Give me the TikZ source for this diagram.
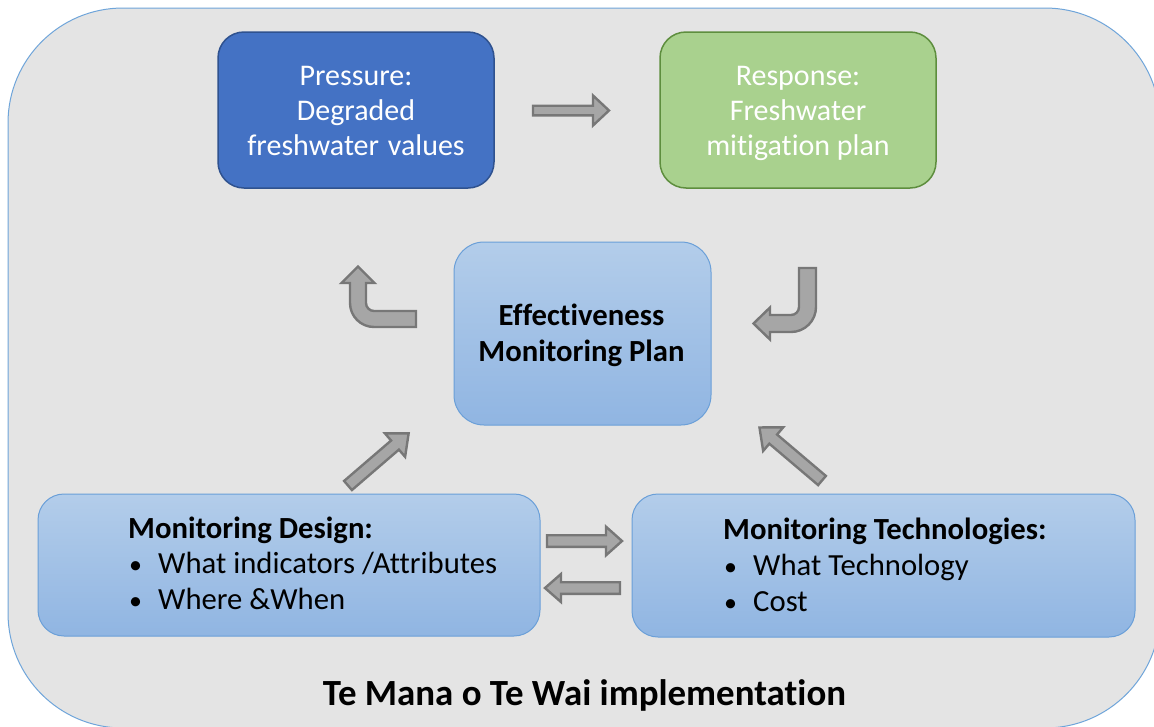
\documentclass[tikz,border=0pt]{standalone}
\usepackage{fontspec}
\setmainfont{Carlito}[Ligatures={NoCommon}]
\definecolor{bgfill}{HTML}{E4E4E4}
\definecolor{bgline}{HTML}{6FA5DA}
\definecolor{pressfill}{HTML}{4472C4}
\definecolor{pressline}{HTML}{2F528F}
\definecolor{respfill}{HTML}{A9D18E}
\definecolor{respline}{HTML}{5E8E3E}
\definecolor{btop}{HTML}{B3CDEA}
\definecolor{bbot}{HTML}{90B5E2}
\definecolor{bline}{HTML}{6A9FD8}
\definecolor{arrfill}{HTML}{A6A6A6}
\definecolor{arrline}{HTML}{777777}
\newcommand\boxfont{\fontsize{30}{35}\selectfont}
\newcommand\lowfont{\fontsize{30.7}{35}\selectfont}
\newcommand\titlefont{\fontsize{36.9}{42}\selectfont\bfseries}
\newcommand\blockarr[6]{%
  \begin{scope}[shift={(#1)},rotate=#2]
    \draw[arr] (0,-#4) -- ({#3-#6},-#4) -- ({#3-#6},-#5) -- (#3,0) -- ({#3-#6},#5) -- ({#3-#6},#4) -- (0,#4) -- cycle;
  \end{scope}}
\begin{document}
\begin{tikzpicture}[x=1pt,y=1pt,
  arr/.style={fill=arrfill, draw=arrline, line width=2.4pt, line join=miter},
  pressbox/.style={draw=pressline, fill=pressfill, line width=1.5pt, rounded corners=26pt, minimum width=276pt, minimum height=156pt},
  respbox/.style={draw=respline, fill=respfill, line width=1.5pt, rounded corners=26pt, minimum width=276pt, minimum height=156pt},
  bluebox/.style={draw=bline, line width=1pt, top color=btop, bottom color=bbot},
  wtext/.style={text=white, font=\boxfont, inner sep=0pt},
  ktext/.style={text=black, font=\lowfont, inner sep=0pt},
  ]
\useasboundingbox (0,0) rectangle (1154,-726);
\fill[white] (0,0) rectangle (1154,-726);
\begin{scope}
\clip (0,0) rectangle (1154,-726);
\draw[fill=bgfill, draw=bgline, line width=1pt, rounded corners=115pt] (8,-8) rectangle (1160,-728);
\end{scope}

% boxes
\node[pressbox] (press) at (356,-110) {};
\node[respbox] (resp) at (798,-110) {};
\node[bluebox, rounded corners=30pt, minimum width=257pt, minimum height=183pt] (emp) at (582.5,-333.5) {};
\node[bluebox, rounded corners=26pt, minimum width=502pt, minimum height=142pt] (design) at (289,-565) {};
\node[bluebox, rounded corners=26pt, minimum width=503pt, minimum height=143pt] (tech) at (883.5,-565.5) {};

% texts
\node[wtext, anchor=base] (p1) at (356,-85) {Pressure:};
\node[wtext, anchor=base] (p2) at (356,-120) {Degraded};
\node[wtext, anchor=base] (p3) at (356,-155) {freshwater\hspace{2pt} values};
\node[wtext, anchor=base] (r1) at (798,-85) {Response:};
\node[wtext, anchor=base] (r2) at (798,-120.5) {Freshwater};
\node[wtext, anchor=base] (r3) at (798,-155) {mitigation plan};
\node[ktext, anchor=base, font=\lowfont\bfseries] (e1) at (581.5,-325) {Effectiveness};
\node[ktext, anchor=base, font=\lowfont\bfseries] (e2) at (581.5,-361) {Monitoring Plan};

\node[ktext, anchor=base west, font=\lowfont\bfseries] (d0) at (128,-538.5) {Monitoring Design:};
\node[ktext, anchor=base west, font=\fontsize{26}{30}\selectfont] (d1b) at (129,-573.5) {•};
\node[ktext, anchor=base west] (d1) at (158,-573.5) {What indicators /Attributes};
\node[ktext, anchor=base west, font=\fontsize{26}{30}\selectfont] (d2b) at (129,-609) {•};
\node[ktext, anchor=base west] (d2) at (158,-609) {Where \&When};

\node[ktext, anchor=base west, font=\lowfont\bfseries] (t0) at (723,-539) {Monitoring Technologies:};
\node[ktext, anchor=base west, font=\fontsize{26}{30}\selectfont] (t1b) at (724,-575) {•};
\node[ktext, anchor=base west] (t1) at (753,-575) {What Technology};
\node[ktext, anchor=base west, font=\fontsize{26}{30}\selectfont] (t2b) at (724,-611) {•};
\node[ktext, anchor=base west] (t2) at (753,-611) {Cost};

\node[ktext, anchor=base, font=\titlefont] (title) at (584.5,-705) {Te Mana o Te Wai implementation};

% straight block arrows
\blockarr{533,-110.5}{0}{76}{4.8}{15}{16}
\blockarr{547,-541}{0}{75}{5.8}{14.3}{16}
\blockarr{620,-588}{180}{75}{5.8}{14}{16}
\blockarr{348,-485.5}{40.7}{80}{6}{15.5}{18}
\blockarr{822,-480.5}{139.7}{82}{6}{15.5}{18}

% U-turn arrows
\draw[arr] (416,-311) -- (374,-311) arc[start angle=-90,end angle=-180,radius=8]
  -- (366,-283) -- (374.5,-283) -- (358,-266.5) -- (341.5,-283) -- (350,-283)
  -- (350,-303) arc[start angle=180,end angle=270,radius=24] -- (416,-327) -- cycle;
\draw[arr] (799,-268) -- (816,-268) -- (816,-307) arc[start angle=0,end angle=-90,radius=25]
  -- (770,-332) -- (770,-339.5) -- (753.5,-323.5) -- (770,-307.5) -- (770,-315)
  -- (791,-315) arc[start angle=-90,end angle=0,radius=8] -- cycle;
\end{tikzpicture}
\end{document}
